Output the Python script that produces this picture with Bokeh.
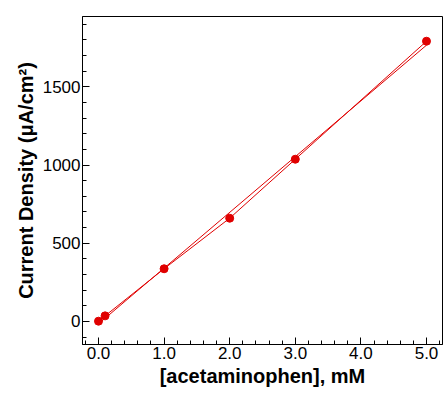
import numpy as np
from bokeh.plotting import figure
from bokeh.models import Range1d, SingleIntervalTicker, NumeralTickFormatter
from bokeh.embed import file_html
from bokeh.resources import INLINE

# data
conc = [0.0, 0.1, 1.0, 2.0, 3.0, 5.0]          # mM
current = [2, 36, 337, 660, 1037, 1791]        # uA/cm^2

# linear fit of the data (drawn as the second thin line)
slope, intercept = np.polyfit(conc, current, 1)
fit_x = [min(conc), max(conc)]
fit_y = [slope * x + intercept for x in fit_x]

RED = "#e00000"
FONT = "Liberation Sans"

p = figure(width=448, height=393, output_backend="svg", toolbar_location=None,
           x_range=Range1d(-0.244, 5.244), y_range=Range1d(-147, 1949),
           min_border_left=82, min_border_right=6, min_border_top=16,
           min_border_bottom=49, background_fill_color="white",
           border_fill_color="white")

p.line(conc, current, line_color=RED, line_width=1)
p.line(fit_x, fit_y, line_color=RED, line_width=1)
p.scatter(conc, current, size=8, fill_color=RED, line_color=RED)

p.xgrid.visible = False
p.ygrid.visible = False
p.outline_line_color = "black"
p.outline_line_width = 1

p.xaxis.ticker = SingleIntervalTicker(interval=1, num_minor_ticks=5)
p.yaxis.ticker = SingleIntervalTicker(interval=500, num_minor_ticks=5)
p.xaxis.formatter = NumeralTickFormatter(format="0.0")
p.yaxis.formatter = NumeralTickFormatter(format="0")

p.xaxis.axis_label = "[acetaminophen], mM"
p.yaxis.axis_label = "Current Density (\u03bcA/cm\u00b2)"

for ax in (p.xaxis, p.yaxis):
    ax.axis_line_color = "black"
    ax.axis_line_width = 1
    ax.major_tick_in = 7
    ax.major_tick_out = 0
    ax.minor_tick_in = 4
    ax.minor_tick_out = 0
    ax.major_tick_line_color = "black"
    ax.minor_tick_line_color = "black"
    ax.major_label_text_font = FONT
    ax.major_label_text_font_size = "17px"
    ax.major_label_text_color = "black"
    ax.axis_label_text_font = FONT
    ax.axis_label_text_font_size = "20px"
    ax.axis_label_text_font_style = "bold"
    ax.axis_label_text_color = "black"
    ax.major_label_standoff = 2
    ax.axis_label_standoff = 3

open("out.html", "w").write(file_html(p, INLINE))
